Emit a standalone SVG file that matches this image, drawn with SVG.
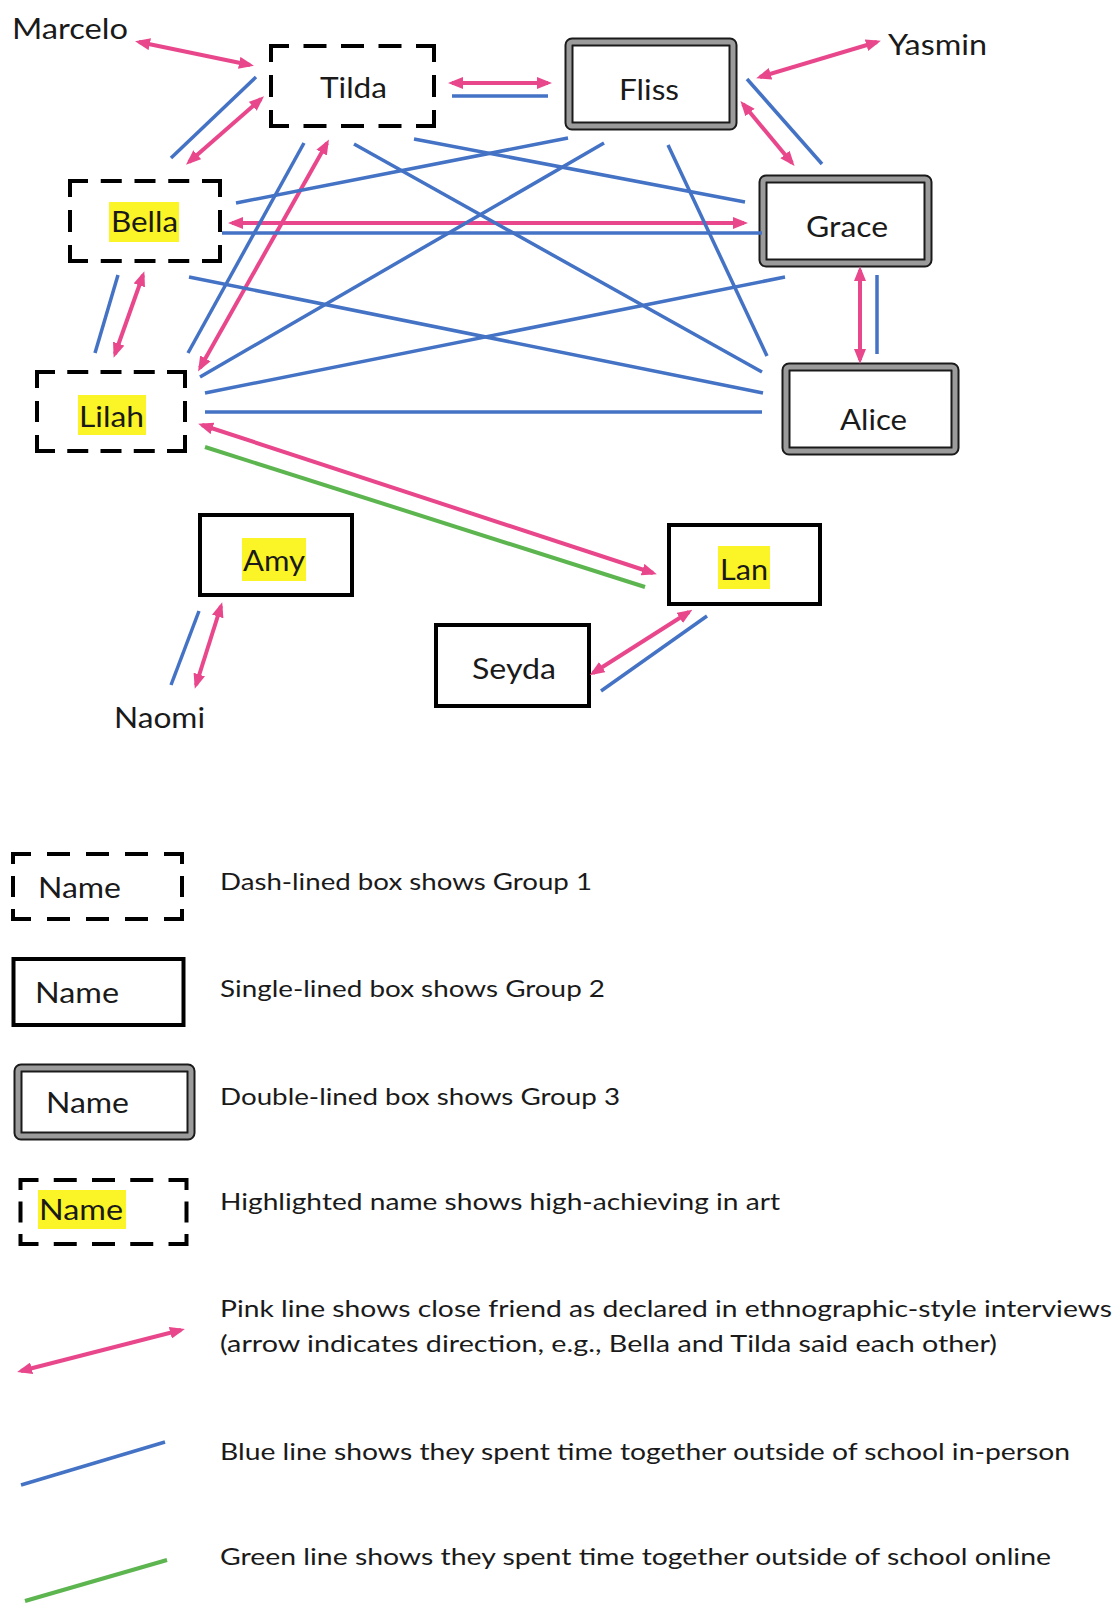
<svg xmlns="http://www.w3.org/2000/svg" width="1115" height="1604" viewBox="0 0 1115 1604">
  <defs>
    <marker id="ah" viewBox="0 0 15 12" refX="11" refY="6" markerWidth="15" markerHeight="12" markerUnits="userSpaceOnUse" orient="auto-start-reverse">
      <path d="M0,0 L15,6 L0,12 z" fill="#E9478C"/>
    </marker>
  </defs>
  <style>
    .lbl{font-family:Lato,"Liberation Sans",sans-serif;font-size:29px;fill:#1a1a1a}
    .leg{font-family:Lato,"Liberation Sans",sans-serif;font-size:24px;fill:#1a1a1a}
    .dash{fill:none;stroke:#000;stroke-width:4;stroke-linecap:butt;stroke-linejoin:miter}
    .single{fill:#fff;stroke:#000;stroke-width:4}
    .dbl-o{fill:#fff;stroke:#1a1a1a;stroke-width:9}
    .dbl-i{fill:none;stroke:#9b9b9b;stroke-width:5}
    .hl{fill:#FBF527}
    .pink{stroke:#E9478C;stroke-width:4;fill:none;marker-start:url(#ah);marker-end:url(#ah)}
    .blue{stroke:#4472C4;stroke-width:3.5;fill:none}
    .green{stroke:#5DB550;stroke-width:4;fill:none}
  </style>
  <rect width="1115" height="1604" fill="#fff"/>

  <!-- people outside the groups -->
  <g id="marcelo"><text class="lbl" x="12" y="39" textLength="116" lengthAdjust="spacingAndGlyphs">Marcelo</text></g>
  <g id="yasmin"><text class="lbl" x="888" y="55" textLength="99" lengthAdjust="spacingAndGlyphs">Yasmin</text></g>
  <g id="naomi"><text class="lbl" x="114" y="728" textLength="91" lengthAdjust="spacingAndGlyphs">Naomi</text></g>

  <!-- Group 1: dashed boxes (corner pieces + evenly spaced dashes) -->
  <g id="tilda">
    <path class="dash" d="M289,46 H271 V62 M416,46 H434 V62 M289,126 H271 V110 M416,126 H434 V110
      M303.5,46 H326.5 M341,46 H364 M378.5,46 H401.5
      M303.5,126 H326.5 M341,126 H364 M378.5,126 H401.5
      M271,75 V97 M434,75 V97"/>
    <text class="lbl" x="320" y="98" textLength="67" lengthAdjust="spacingAndGlyphs">Tilda</text>
  </g>
  <g id="bella">
    <path class="dash" d="M88,181 H70 V197 M202,181 H220 V197 M88,261 H70 V245 M202,261 H220 V245
      M100.75,181 H121.75 M134.5,181 H155.5 M168.25,181 H189.25
      M100.75,261 H121.75 M134.5,261 H155.5 M168.25,261 H189.25
      M70,210 V232 M220,210 V232"/>
    <rect class="hl" x="109" y="202" width="70" height="40"/>
    <text class="lbl" x="111" y="232" textLength="67" lengthAdjust="spacingAndGlyphs">Bella</text>
  </g>
  <g id="lilah">
    <path class="dash" d="M55,372 H37 V388 M167,372 H185 V388 M55,451 H37 V435 M167,451 H185 V435
      M67.25,372 H88.25 M100.5,372 H121.5 M133.75,372 H154.75
      M67.25,451 H88.25 M100.5,451 H121.5 M133.75,451 H154.75
      M37,401 V422 M185,401 V422"/>
    <rect class="hl" x="78" y="395" width="68" height="40"/>
    <text class="lbl" x="79" y="427" textLength="65" lengthAdjust="spacingAndGlyphs">Lilah</text>
  </g>

  <!-- Group 2: single-lined boxes -->
  <g id="amy">
    <rect class="single" x="200" y="515" width="152" height="80"/>
    <rect class="hl" x="242" y="538" width="64" height="43"/>
    <text class="lbl" x="243" y="571" textLength="62" lengthAdjust="spacingAndGlyphs">Amy</text>
  </g>
  <g id="lan">
    <rect class="single" x="669" y="525" width="151" height="79"/>
    <rect class="hl" x="718" y="546" width="52" height="43"/>
    <text class="lbl" x="720" y="580" textLength="48" lengthAdjust="spacingAndGlyphs">Lan</text>
  </g>
  <g id="seyda">
    <rect class="single" x="436" y="625" width="153" height="81"/>
    <text class="lbl" x="472" y="679" textLength="84" lengthAdjust="spacingAndGlyphs">Seyda</text>
  </g>

  <!-- Group 3: double-lined boxes -->
  <g id="fliss">
    <rect class="dbl-o" x="569" y="42" width="164" height="84" rx="3"/>
    <rect class="dbl-i" x="569" y="42" width="164" height="84" rx="3"/>
    <text class="lbl" x="619" y="100" textLength="60" lengthAdjust="spacingAndGlyphs">Fliss</text>
  </g>
  <g id="grace">
    <rect class="dbl-o" x="763" y="179" width="165" height="84" rx="3"/>
    <rect class="dbl-i" x="763" y="179" width="165" height="84" rx="3"/>
    <text class="lbl" x="806" y="237" textLength="82" lengthAdjust="spacingAndGlyphs">Grace</text>
  </g>
  <g id="alice">
    <rect class="dbl-o" x="786" y="367" width="169" height="84" rx="3"/>
    <rect class="dbl-i" x="786" y="367" width="169" height="84" rx="3"/>
    <text class="lbl" x="840" y="430" textLength="67" lengthAdjust="spacingAndGlyphs">Alice</text>
  </g>

  <!-- friendship connectors -->
  <g id="connectors">
    <!-- close friends (pink, arrowed) -->
    <line class="pink" x1="139" y1="42" x2="250" y2="65"/>
    <line class="pink" x1="452" y1="83" x2="548" y2="83"/>
    <line class="pink" x1="261" y1="99" x2="189" y2="162"/>
    <line class="pink" x1="760" y1="77" x2="877" y2="42"/>
    <line class="pink" x1="743" y1="104" x2="792" y2="163"/>
    <line class="pink" x1="232" y1="223" x2="744" y2="223"/>
    <line class="pink" x1="327" y1="143" x2="200" y2="368"/>
    <line class="pink" x1="143" y1="275" x2="115" y2="354"/>
    <line class="pink" x1="860" y1="270" x2="860" y2="360"/>
    <line class="pink" x1="202" y1="425" x2="653" y2="573"/>
    <line class="pink" x1="221" y1="606" x2="196" y2="685"/>
    <line class="pink" x1="689" y1="612" x2="593" y2="673"/>
    <!-- in-person time (blue) -->
    <line class="blue" x1="256" y1="77" x2="171" y2="158"/>
    <line class="blue" x1="452" y1="96" x2="548" y2="96"/>
    <line class="blue" x1="747" y1="79" x2="822" y2="164"/>
    <line class="blue" x1="236" y1="203" x2="568" y2="138"/>
    <line class="blue" x1="222" y1="233" x2="762" y2="233"/>
    <line class="blue" x1="304" y1="143" x2="188" y2="353"/>
    <line class="blue" x1="354" y1="144" x2="762" y2="372"/>
    <line class="blue" x1="414" y1="139" x2="745" y2="202"/>
    <line class="blue" x1="604" y1="143" x2="200" y2="377"/>
    <line class="blue" x1="668" y1="145" x2="767" y2="356"/>
    <line class="blue" x1="118" y1="275" x2="95" y2="353"/>
    <line class="blue" x1="189" y1="277" x2="763" y2="393"/>
    <line class="blue" x1="785" y1="277" x2="205" y2="393"/>
    <line class="blue" x1="205" y1="412" x2="762" y2="412"/>
    <line class="blue" x1="877" y1="275" x2="877" y2="354"/>
    <line class="blue" x1="199" y1="611" x2="171" y2="685"/>
    <line class="blue" x1="707" y1="616" x2="601" y2="691"/>
    <!-- online time (green) -->
    <line class="green" x1="205" y1="447" x2="645" y2="587"/>
  </g>

  <!-- key -->
  <g id="legend">
    <path class="dash" d="M31,854 H13 V864 M164,854 H182 V864 M31,919 H13 V909 M164,919 H182 V909
      M47,854 H70 M86,854 H109 M125,854 H148
      M47,919 H70 M86,919 H109 M125,919 H148
      M13,876 V897 M182,876 V897"/>
    <text class="lbl" x="38" y="898" textLength="83" lengthAdjust="spacingAndGlyphs">Name</text>
    <text class="leg" x="220" y="890" textLength="372" lengthAdjust="spacingAndGlyphs">Dash-lined box shows Group 1</text>

    <rect class="single" x="13.5" y="959" width="170" height="66"/>
    <text class="lbl" x="35" y="1003" textLength="84" lengthAdjust="spacingAndGlyphs">Name</text>
    <text class="leg" x="220" y="997" textLength="385" lengthAdjust="spacingAndGlyphs">Single-lined box shows Group 2</text>

    <rect class="dbl-o" x="18" y="1068" width="173" height="68" rx="3"/>
    <rect class="dbl-i" x="18" y="1068" width="173" height="68" rx="3"/>
    <text class="lbl" x="46" y="1113" textLength="83" lengthAdjust="spacingAndGlyphs">Name</text>
    <text class="leg" x="220" y="1105" textLength="400" lengthAdjust="spacingAndGlyphs">Double-lined box shows Group 3</text>

    <path class="dash" d="M38.5,1180 H20.5 V1190 M168.5,1180 H186.5 V1190 M38.5,1244 H20.5 V1234 M168.5,1244 H186.5 V1234
      M53.75,1180 H76.75 M92,1180 H115 M130.25,1180 H153.25
      M53.75,1244 H76.75 M92,1244 H115 M130.25,1244 H153.25
      M20.5,1201.5 V1222.5 M186.5,1201.5 V1222.5"/>
    <rect class="hl" x="38" y="1190" width="88" height="39"/>
    <text class="lbl" x="39" y="1220" textLength="84" lengthAdjust="spacingAndGlyphs">Name</text>
    <text class="leg" x="220" y="1210" textLength="560" lengthAdjust="spacingAndGlyphs">Highlighted name shows high-achieving in art</text>

    <line class="pink" x1="21" y1="1371" x2="181" y2="1330"/>
    <text class="leg" x="220" y="1317" textLength="892" lengthAdjust="spacingAndGlyphs">Pink line shows close friend as declared in ethnographic-style interviews</text>
    <text class="leg" x="220" y="1352" textLength="777" lengthAdjust="spacingAndGlyphs">(arrow indicates direction, e.g., Bella and Tilda said each other)</text>

    <line class="blue" x1="21" y1="1485" x2="165" y2="1442"/>
    <text class="leg" x="220" y="1460" textLength="850" lengthAdjust="spacingAndGlyphs">Blue line shows they spent time together outside of school in-person</text>

    <line class="green" x1="25" y1="1601" x2="167" y2="1560"/>
    <text class="leg" x="220" y="1565" textLength="831" lengthAdjust="spacingAndGlyphs">Green line shows they spent time together outside of school online</text>
  </g>
</svg>
